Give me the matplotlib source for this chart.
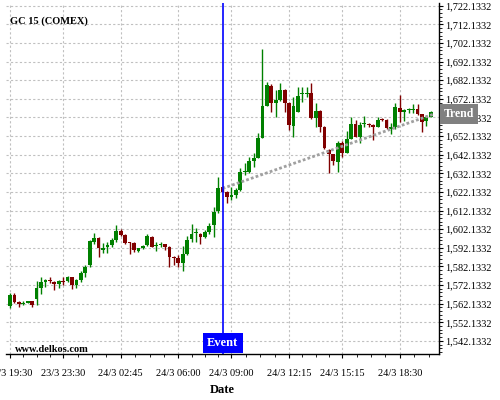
import numpy as np
import matplotlib
matplotlib.use('Agg')
import matplotlib.pyplot as plt
from matplotlib.ticker import FixedLocator, FuncFormatter

plt.rcParams['font.family'] = ['Liberation Serif', 'DejaVu Serif']

opens = [1560.9, 1566.8, 1563.2, 1562.0, 1562.7, 1563.6, 1564.7, 1570.4, 1574.0, 1574.9,
         1574.0, 1572.6, 1574.0, 1574.3, 1576.3, 1572.2, 1574.9, 1578.6, 1582.9, 1595.4,
         1597.3, 1591.0, 1592.8, 1593.7, 1596.3, 1601.2, 1599.1, 1594.9, 1594.6, 1590.6,
         1592.2, 1593.7, 1597.8, 1593.0, 1593.5, 1594.2, 1592.8, 1586.9, 1586.9, 1584.2,
         1588.9, 1596.9, 1600.0, 1599.6, 1598.1, 1600.5, 1604.4, 1612.1, 1624.7, 1622.3,
         1619.6, 1620.5, 1623.2, 1632.9, 1633.0, 1638.9, 1640.6, 1651.3, 1668.5, 1679.2,
         1669.8, 1671.6, 1676.9, 1670.1, 1657.7, 1665.3, 1674.6, 1674.8, 1675.1, 1661.7,
         1665.6, 1657.2, 1644.7, 1642.4, 1638.4, 1648.6, 1643.2, 1650.7, 1658.5, 1651.8,
         1658.7, 1658.7, 1658.1, 1657.2, 1661.4, 1660.8, 1656.0, 1657.0, 1667.4, 1665.3,
         1666.3, 1666.4, 1666.6, 1663.9, 1660.4, 1662.6]
highs = [1567.7, 1567.7, 1563.6, 1563.6, 1563.8, 1563.8, 1574.4, 1576.7, 1575.4, 1576.3,
         1574.5, 1574.9, 1576.3, 1577.0, 1576.7, 1575.3, 1579.9, 1582.9, 1596.3, 1600.3,
         1597.8, 1594.8, 1595.4, 1597.3, 1604.4, 1602.1, 1599.6, 1595.3, 1595.1, 1592.2,
         1593.7, 1599.6, 1598.5, 1595.4, 1595.4, 1594.4, 1593.2, 1587.7, 1588.1, 1593.2,
         1598.5, 1604.9, 1602.6, 1600.1, 1601.7, 1605.7, 1614.3, 1630.4, 1625.1, 1622.7,
         1624.7, 1624.1, 1634.9, 1637.6, 1641.1, 1642.9, 1654.0, 1698.8, 1681.4, 1679.9,
         1676.9, 1680.8, 1677.2, 1670.5, 1673.3, 1678.7, 1678.7, 1678.4, 1680.5, 1670.1,
         1665.9, 1657.6, 1645.0, 1642.5, 1649.7, 1649.7, 1654.9, 1662.6, 1660.8, 1659.9,
         1662.9, 1659.4, 1658.4, 1662.6, 1661.7, 1661.1, 1659.4, 1669.8, 1674.2, 1666.5,
         1667.4, 1669.4, 1669.4, 1664.0, 1663.5, 1665.6]
lows = [1560.0, 1562.4, 1560.5, 1561.5, 1562.4, 1560.5, 1561.5, 1567.2, 1571.3, 1573.4,
        1569.5, 1570.8, 1572.2, 1573.6, 1570.1, 1570.8, 1573.6, 1576.7, 1582.0, 1594.2,
        1587.4, 1589.4, 1589.2, 1592.8, 1595.4, 1598.5, 1594.2, 1588.9, 1589.8, 1589.8,
        1591.5, 1593.2, 1592.5, 1590.6, 1592.5, 1591.0, 1581.7, 1582.9, 1582.0, 1579.9,
        1588.3, 1595.1, 1595.4, 1594.2, 1597.3, 1599.6, 1598.1, 1610.7, 1621.9, 1616.1,
        1617.8, 1618.8, 1622.8, 1631.3, 1632.5, 1635.7, 1640.2, 1651.0, 1668.3, 1664.8,
        1662.2, 1671.0, 1665.3, 1655.4, 1651.9, 1664.8, 1670.6, 1673.3, 1661.5, 1656.9,
        1654.5, 1645.2, 1632.2, 1636.6, 1633.0, 1640.9, 1642.9, 1650.4, 1651.5, 1648.3,
        1657.0, 1656.9, 1650.1, 1656.8, 1660.3, 1655.8, 1653.1, 1655.9, 1659.9, 1660.4,
        1664.4, 1664.4, 1663.5, 1654.2, 1657.7, 1662.2]
closes = [1566.8, 1563.2, 1562.0, 1562.7, 1563.6, 1561.5, 1570.4, 1573.6, 1574.9, 1574.3,
          1572.6, 1574.3, 1573.7, 1576.3, 1572.2, 1574.9, 1578.6, 1582.0, 1595.8, 1597.3,
          1591.9, 1591.9, 1593.7, 1596.3, 1601.2, 1599.1, 1594.9, 1594.6, 1591.0, 1591.9,
          1593.2, 1598.5, 1592.8, 1593.3, 1594.2, 1592.8, 1587.1, 1586.5, 1584.2, 1588.9,
          1596.3, 1599.6, 1600.3, 1598.1, 1600.8, 1604.0, 1611.6, 1624.1, 1622.3, 1619.6,
          1620.5, 1623.2, 1633.0, 1633.4, 1638.9, 1640.6, 1651.3, 1668.5, 1679.6, 1669.8,
          1671.6, 1676.9, 1670.1, 1658.1, 1668.3, 1673.7, 1675.1, 1675.1, 1661.7, 1665.6,
          1657.2, 1645.6, 1642.4, 1638.9, 1648.6, 1643.2, 1650.4, 1658.6, 1651.8, 1658.1,
          1658.9, 1658.1, 1657.0, 1660.8, 1660.5, 1656.4, 1657.2, 1668.0, 1665.3, 1666.2,
          1666.6, 1666.7, 1664.0, 1659.9, 1662.2, 1664.9]

tick_idx = [0, 12, 25, 38, 50, 63, 75, 88]
tick_labels = ['23/3 19:30', '23/3 23:30', '24/3 02:45', '24/3 06:00',
               '24/3 09:00', '24/3 12:15', '24/3 15:15', '24/3 18:30']
price_ticks = [1542.1332 + 10 * k for k in range(19)]
event_idx = 48
trend_x = [48, 95.5]
trend_y = [1624.0, 1663.8]

o = np.array(opens)
h = np.array(highs)
l = np.array(lows)
c = np.array(closes)
x = np.arange(len(o))
up = c >= o
col = np.where(up, '#008000', '#800000')

fig = plt.figure(figsize=(5, 4), dpi=100)
ax = fig.add_axes([0.012, 0.115, 0.866, 0.8775])

ax.vlines(x, l, h, colors=col, linewidth=1, zorder=3)
body_lo = np.minimum(o, c)
body_h = np.maximum(np.abs(c - o), 0.45)
ax.bar(x, body_h, bottom=body_lo, width=0.85, color=col, linewidth=0, zorder=4)

ax.plot(trend_x, trend_y, color='#a0a0a0', linewidth=2, linestyle=(0, (1, 0.8)), zorder=5)
ax.axvline(event_idx, color='#0000ff', linewidth=1.2, zorder=6)

ax.set_xlim(-0.9, 96.85)
ax.set_ylim(1535.1, 1723.6)

ax.xaxis.set_major_locator(FixedLocator(tick_idx))
ax.set_xticklabels(tick_labels)
minor_x = []
for a, b in zip(tick_idx[:-1], tick_idx[1:]):
    minor_x += list(np.linspace(a, b, 5)[1:-1])
minor_x += list(np.arange(tick_idx[-1], 97, (tick_idx[-1] - tick_idx[-2]) / 4)[1:])
ax.xaxis.set_minor_locator(FixedLocator(minor_x))

ax.yaxis.set_major_locator(FixedLocator(price_ticks))
ax.yaxis.set_minor_locator(FixedLocator([1536.1332 + 2 * k for k in range(94)]))
ax.yaxis.set_major_formatter(FuncFormatter(lambda v, p: '{:,.4f}'.format(v)))
ax.yaxis.tick_right()

ax.tick_params(axis='both', which='major', labelsize=7.5, length=3, width=0.8, color='#000000')
ax.tick_params(axis='both', which='minor', length=2, width=0.6)
ax.tick_params(axis='x', which='major', pad=8)
ax.tick_params(axis='y', which='major', pad=1.5)

ax.spines['top'].set_visible(False)
ax.spines['left'].set_visible(False)
ax.spines['right'].set_linewidth(1)
ax.spines['bottom'].set_linewidth(1)

ax.grid(True, which='major', color='#c0c0c0', linestyle=(0, (2, 2)), linewidth=0.8)
ax.set_axisbelow(True)

fig.text(10 / 500, 1 - 21 / 400, 'GC 15 (COMEX)', fontsize=7.5, fontweight='bold', va='center')
fig.text(15 / 500, 1 - 349 / 400, 'www.delkos.com', fontsize=7.5, fontweight='bold', va='center')
fig.text(222 / 500, 1 - 390 / 400, 'Date', fontsize=9, fontweight='bold', ha='center', va='center')

ax.text(event_idx, 0.031, 'Event', transform=ax.get_xaxis_transform(), fontsize=9,
        fontweight='bold', color='white', ha='center', va='center', zorder=7,
        bbox=dict(boxstyle='square,pad=0.35', facecolor='#0000ff', edgecolor='none'))
ax.text(1.011, trend_y[-1], 'Trend', transform=ax.get_yaxis_transform(), fontsize=8.5,
        fontweight='bold', color='white', ha='left', va='center', zorder=7, clip_on=False,
        bbox=dict(boxstyle='square,pad=0.35', facecolor='#808080', edgecolor='none'))

plt.savefig('out.png', dpi=100)
